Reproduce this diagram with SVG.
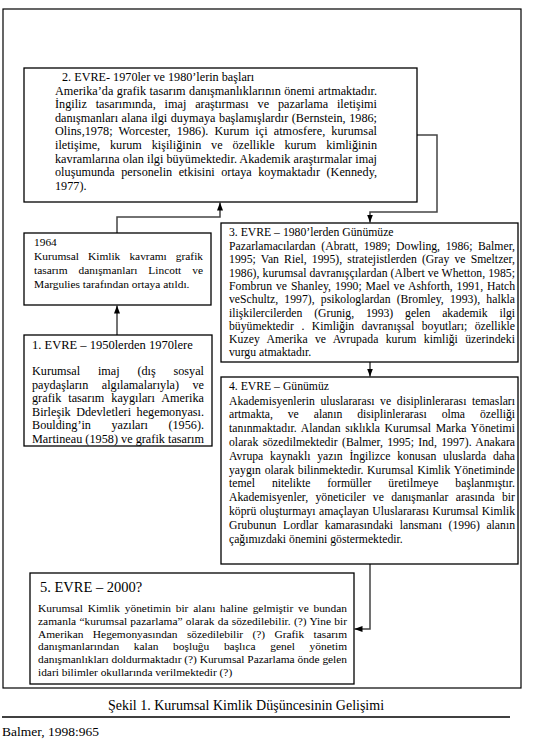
<svg xmlns="http://www.w3.org/2000/svg" width="545" height="751" viewBox="0 0 545 751">
<style>
.box{fill:#fff;stroke:#000;stroke-width:1.3}
.frame{fill:none;stroke:#000;stroke-width:1.2}
.t{font-family:"Liberation Serif","Times New Roman",serif;font-size:11.7px;fill:#000}
.b2{font-size:12.2px}
.b1{font-size:12.2px}
.b64{font-size:11.4px}
.b5{font-size:11.4px}
.conn{fill:none;stroke:#444;stroke-width:1.5}
</style>
<defs>
<marker id="ah" viewBox="0 0 8 6" refX="8" refY="3" markerWidth="8" markerHeight="6" markerUnits="userSpaceOnUse" orient="auto">
<path d="M0,0 L8,3 L0,6 z" fill="#000"/>
</marker>
</defs>
<rect x="0" y="0" width="545" height="751" fill="#fff"/>
<rect class="frame" x="3" y="9" width="518" height="679"/>

<g id="connectors">
<path class="conn" d="M117,335 V305.5" marker-end="url(#ah)"/>
<path class="conn" d="M117,233 V217 H220 V202.5" marker-end="url(#ah)"/>
<path class="conn" d="M417,135 H437 V212 H370 V222.5" marker-end="url(#ah)"/>
<path class="conn" d="M370,362 V376.5" marker-end="url(#ah)"/>
<path class="conn" d="M370,564 V629 H354.5" marker-end="url(#ah)"/>
</g>

<g id="evre2">
<rect class="box" x="24" y="68" width="393" height="134"/>
<text class="t b2" x="62" y="80.5">2. EVRE- 1970ler ve 1980’lerin başları</text>
<text class="t b2" x="55" y="94.5" textLength="322" lengthAdjust="spacing" style="word-spacing:0.4px">Amerika’da grafik tasarım danışmanlıklarının önemi artmaktadır.</text>
<text class="t b2" x="55" y="108.1" textLength="322" lengthAdjust="spacing" style="word-spacing:5.8px">İngiliz tasarımında, imaj araştırması ve pazarlama iletişimi</text>
<text class="t b2" x="55" y="121.7" textLength="322" lengthAdjust="spacing" style="word-spacing:0.5px">danışmanları alana ilgi duymaya başlamışlardır (Bernstein, 1986;</text>
<text class="t b2" x="55" y="135.3" textLength="322" lengthAdjust="spacing" style="word-spacing:3px">Olins,1978; Worcester, 1986). Kurum içi atmosfere, kurumsal</text>
<text class="t b2" x="55" y="148.9" textLength="322" lengthAdjust="spacing" style="word-spacing:6.8px">iletişime, kurum kişiliğinin ve özellikle kurum kimliğinin</text>
<text class="t b2" x="55" y="162.5" textLength="322" lengthAdjust="spacing">kavramlarına olan ilgi büyümektedir. Akademik araştırmalar imaj</text>
<text class="t b2" x="55" y="176.1" textLength="322" lengthAdjust="spacing" style="word-spacing:3.4px">oluşumunda personelin etkisini ortaya koymaktadır (Kennedy,</text>
<text class="t b2" x="55" y="189.7">1977).</text>
</g>

<g id="y1964">
<rect class="box" x="24" y="233" width="187" height="72"/>
<text class="t b64" x="34" y="246">1964</text>
<text class="t b64" x="34" y="260" textLength="169" lengthAdjust="spacing" style="word-spacing:6.2px">Kurumsal Kimlik kavramı grafik</text>
<text class="t b64" x="34" y="274" textLength="169" lengthAdjust="spacing" style="word-spacing:8.1px">tasarım danışmanları Lincott ve</text>
<text class="t b64" x="34" y="288">Margulies tarafından ortaya atıldı.</text>
</g>

<g id="evre1">
<rect class="box" x="24" y="335" width="188" height="111"/>
<text class="t" x="32" y="349" style="font-size:12.5px">1. EVRE – 1950lerden 1970lere</text>
<text class="t b1" x="32" y="375" textLength="172" lengthAdjust="spacing" style="word-spacing:14.7px">Kurumsal imaj (dış sosyal</text>
<text class="t b1" x="32" y="388.5" textLength="172" lengthAdjust="spacing" style="word-spacing:10.4px">paydaşların algılamalarıyla) ve</text>
<text class="t b1" x="32" y="402" textLength="172" lengthAdjust="spacing" style="word-spacing:3.9px">grafik tasarım kaygıları Amerika</text>
<text class="t b1" x="32" y="415.5" textLength="172" lengthAdjust="spacing" style="word-spacing:2.5px">Birleşik Ddevletleri hegemonyası.</text>
<text class="t b1" x="32" y="429" textLength="172" lengthAdjust="spacing" style="word-spacing:17.4px">Boulding’in yazıları (1956).</text>
<text class="t b1" x="32" y="442.5" textLength="172" lengthAdjust="spacing">Martineau (1958) ve grafik tasarım</text>
</g>

<g id="evre3">
<rect class="box" x="221" y="223" width="297" height="139"/>
<text class="t" x="229" y="236">3. EVRE – 1980’lerden Günümüze</text>
<text class="t" x="229" y="250" textLength="286" lengthAdjust="spacing" style="word-spacing:2.7px">Pazarlamacılardan (Abratt, 1989; Dowling, 1986; Balmer,</text>
<text class="t" x="229" y="263.3" textLength="286" lengthAdjust="spacing" style="word-spacing:2.1px">1995; Van Riel, 1995), stratejistlerden (Gray ve Smeltzer,</text>
<text class="t" x="229" y="276.6" textLength="286" lengthAdjust="spacing">1986), kurumsal davranışçılardan (Albert ve Whetton, 1985;</text>
<text class="t" x="229" y="289.9" textLength="286" lengthAdjust="spacing" style="word-spacing:0.9px">Fombrun ve Shanley, 1990; Mael ve Ashforth, 1991, Hatch</text>
<text class="t" x="229" y="303.2" textLength="286" lengthAdjust="spacing" style="word-spacing:3.2px">veSchultz, 1997), psikologlardan (Bromley, 1993), halkla</text>
<text class="t" x="229" y="316.5" textLength="286" lengthAdjust="spacing" style="word-spacing:8.9px">ilişkilercilerden (Grunig, 1993) gelen akademik ilgi</text>
<text class="t" x="229" y="329.8" textLength="286" lengthAdjust="spacing" style="word-spacing:4.5px">büyümektedir . Kimliğin davranışsal boyutları; özellikle</text>
<text class="t" x="229" y="343.1" textLength="286" lengthAdjust="spacing" style="word-spacing:4.3px">Kuzey Amerika ve Avrupada kurum kimliği üzerindeki</text>
<text class="t" x="229" y="356.4">vurgu atmaktadır.</text>
</g>

<g id="evre4">
<rect class="box" x="221" y="377" width="297" height="187"/>
<text class="t" x="229" y="390">4. EVRE – Günümüz</text>
<text class="t" x="229" y="404.5" textLength="286" lengthAdjust="spacing" style="word-spacing:2.7px">Akademisyenlerin uluslararası ve disiplinlerarası temasları</text>
<text class="t" x="229" y="418.3" textLength="286" lengthAdjust="spacing" style="word-spacing:12px">artmakta, ve alanın disiplinlerarası olma özelliği</text>
<text class="t" x="229" y="432.1" textLength="286" lengthAdjust="spacing" style="word-spacing:1.7px">tanınmaktadır. Alandan sıklıkla Kurumsal Marka Yönetimi</text>
<text class="t" x="229" y="445.9" textLength="286" lengthAdjust="spacing" style="word-spacing:1.4px">olarak sözedilmektedir (Balmer, 1995; Ind, 1997). Anakara</text>
<text class="t" x="229" y="459.7" textLength="286" lengthAdjust="spacing" style="word-spacing:3.8px">Avrupa kaynaklı yazın İngilizce konusan uluslarda daha</text>
<text class="t" x="229" y="473.5" textLength="286" lengthAdjust="spacing" style="word-spacing:0.8px">yaygın olarak bilinmektedir. Kurumsal Kimlik Yönetiminde</text>
<text class="t" x="229" y="487.3" textLength="286" lengthAdjust="spacing" style="word-spacing:13.9px">temel nitelikte formüller üretilmeye başlanmıştır.</text>
<text class="t" x="229" y="501.1" textLength="286" lengthAdjust="spacing" style="word-spacing:4.3px">Akademisyenler, yöneticiler ve danışmanlar arasında bir</text>
<text class="t" x="229" y="514.9" textLength="286" lengthAdjust="spacing" style="word-spacing:0.5px">köprü oluşturmayı amaçlayan Uluslararası Kurumsal Kimlik</text>
<text class="t" x="229" y="528.7" textLength="286" lengthAdjust="spacing" style="word-spacing:3.7px">Grubunun Lordlar kamarasındaki lansmanı (1996) alanın</text>
<text class="t" x="229" y="542.5">çağımızdaki önemini göstermektedir.</text>
</g>

<g id="evre5">
<rect class="box" x="30" y="573" width="324" height="111"/>
<text class="t" x="40" y="592" style="font-size:14.5px">5. EVRE – 2000?</text>
<text class="t b5" x="38" y="612" textLength="309" lengthAdjust="spacing" style="word-spacing:1.9px">Kurumsal Kimlik yönetimin bir alanı haline gelmiştir ve bundan</text>
<text class="t b5" x="38" y="624.8" textLength="309" lengthAdjust="spacing" style="word-spacing:0.3px">zamanla “kurumsal pazarlama” olarak da sözedilebilir. (?)  Yine bir</text>
<text class="t b5" x="38" y="637.6" textLength="309" lengthAdjust="spacing" style="word-spacing:6.5px">Amerikan Hegemonyasından sözedilebilir (?) Grafik tasarım</text>
<text class="t b5" x="38" y="650.4" textLength="309" lengthAdjust="spacing" style="word-spacing:11.8px">danışmanlarından kalan boşluğu başlıca genel yönetim</text>
<text class="t b5" x="38" y="663.2" textLength="309" lengthAdjust="spacing">danışmanlıkları doldurmaktadır (?) Kurumsal Pazarlama önde gelen</text>
<text class="t b5" x="38" y="676">idari bilimler okullarında verilmektedir (?)</text>
</g>

<text class="t" x="246" y="710" text-anchor="middle" style="font-size:14px">Şekil 1. Kurumsal Kimlik Düşüncesinin Gelişimi</text>
<line x1="2" y1="717" x2="510" y2="717" stroke="#000" stroke-width="1.5"/>
<text class="t" x="2" y="736" style="font-size:13.5px">Balmer, 1998:965</text>
</svg>
